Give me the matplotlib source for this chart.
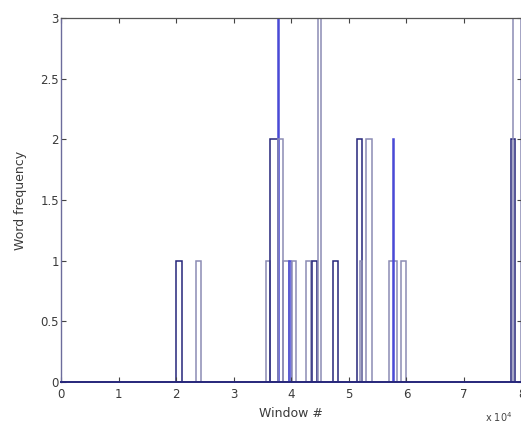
import matplotlib
matplotlib.use("Agg")
import matplotlib.pyplot as plt

# Word occurrence histogram over the text windows (window index in units of 10^4)
bin_start = [2.00, 2.35, 3.57, 3.63, 3.77, 3.77, 3.86, 3.96, 4.01, 4.25, 4.36, 4.47,
             4.72, 5.14, 5.19, 5.30, 5.70, 5.76, 5.91, 7.81, 7.85]
bin_width = [0.10, 0.08, 0.06, 0.14, 0.02, 0.09, 0.10, 0.03, 0.08, 0.10, 0.09, 0.05,
             0.09, 0.09, 0.04, 0.10, 0.14, 0.02, 0.09, 0.08, 0.15]
word_count = [1, 1, 1, 2, 4, 2, 1, 1, 1, 1, 1, 4,
              1, 2, 1, 2, 1, 2, 1, 2, 4]

x_ticks = [0, 1, 2, 3, 4, 5, 6, 7, 8]
y_ticks = [0, 0.5, 1, 1.5, 2, 2.5, 3]
y_tick_labels = ["0", "0.5", "1", "1.5", "2", "2.5", "3"]

NAVY = "#26267a"
BLUE = "#4a4ad6"
GREY = "#8c8cb4"
edge_colors = [NAVY, GREY, GREY, NAVY, BLUE, GREY, GREY, BLUE, GREY, GREY, NAVY, GREY,
               NAVY, NAVY, GREY, GREY, GREY, BLUE, GREY, NAVY, GREY]

fig = plt.figure(figsize=(5.21, 4.23), dpi=100)
fig.patch.set_facecolor("white")
ax = fig.add_axes([61 / 521, 41 / 423, 460.5 / 521, 364 / 423])

ax.bar(bin_start, word_count, width=bin_width, align="edge", fill=False,
       edgecolor=edge_colors, linewidth=1.1)

ax.set_xlim(0, 8)
ax.set_ylim(0, 3)
ax.set_xticks(x_ticks)
ax.set_xticklabels([str(t) for t in x_ticks])
ax.set_yticks(y_ticks)
ax.set_yticklabels(y_tick_labels)

ax.tick_params(direction="in", length=3.5, width=0.8, colors="#444444",
               labelcolor="#3a3a3a", labelsize=8.5, top=True, right=True)
ax.tick_params(axis="y", pad=1.5)
ax.tick_params(axis="x", pad=4)

for side in ("top", "right"):
    ax.spines[side].set_color("#555555")
    ax.spines[side].set_linewidth(0.9)
ax.spines["left"].set_color("#6c6c9c")
ax.spines["left"].set_linewidth(1.0)
ax.spines["bottom"].set_color(NAVY)
ax.spines["bottom"].set_linewidth(1.4)

fig.text(291 / 521, 1 - 413 / 423, "Window #", ha="center", va="center",
         fontsize=9, color="#3a3a3a")
fig.text(21 / 521, 1 - 200 / 423, "Word frequency", ha="center", va="center",
         rotation=90, fontsize=9, color="#3a3a3a")
fig.text(485 / 521, 1 - 417 / 423, r"x 10$^{4}$", ha="left", va="center",
         fontsize=7, color="#444444")

fig.savefig("out.png", dpi=100, facecolor="white")
